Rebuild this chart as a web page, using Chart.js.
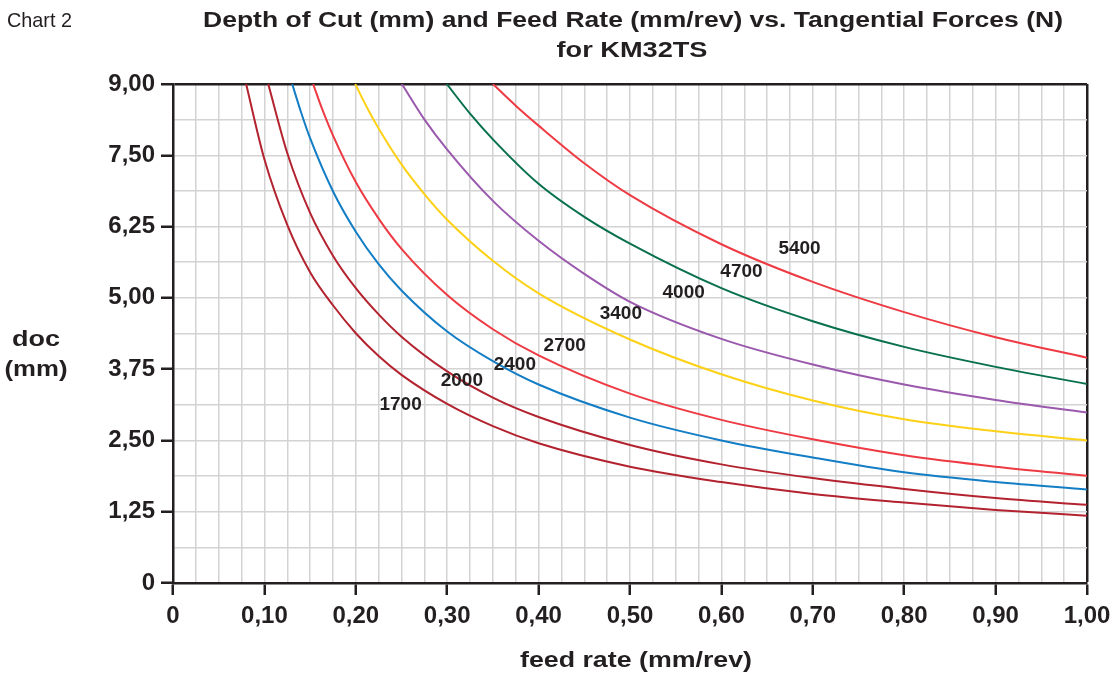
<!DOCTYPE html>
<html>
<head>
<meta charset="utf-8">
<script src="https://cdn.jsdelivr.net/npm/chart.js@4.4.1/dist/chart.umd.min.js"></script>
<style>
body{margin:0;background:#fff;}
#wrap{width:1113px;height:676px;}
</style>
</head>
<body>
<div id="wrap"><canvas id="forceChart" width="1113" height="676"></canvas></div>
<script>
//Data
var forces = [1700,2000,2400,2700,3400,4000,4700,5400];
var feed1700 = [0.080,0.1,0.125,0.15,0.175,0.2,0.225,0.25,0.3,0.35,0.4,0.5,0.6,0.7,0.8,0.9,1.0];
var doc1700  = [8.75,7.43,6.28,5.45,4.87,4.38,3.98,3.65,3.14,2.75,2.45,2.04,1.77,1.56,1.41,1.28,1.18];
var feed2000 = [0.1042,0.125,0.15,0.175,0.2,0.225,0.25,0.3,0.35,0.4,0.5,0.6,0.7,0.8,0.9,1.0];
var doc2000  = [8.75,7.54,6.49,5.74,5.17,4.71,4.32,3.71,3.25,2.91,2.42,2.08,1.84,1.65,1.49,1.37];
var feed2400 = [0.1304,0.14,0.15,0.175,0.2,0.225,0.25,0.3,0.35,0.4,0.5,0.6,0.7,0.8,0.9,1.0];
var doc2400  = [8.75,8.26,7.80,6.87,6.16,5.59,5.13,4.41,3.89,3.48,2.90,2.50,2.20,1.94,1.77,1.64];
var feed2700 = [0.1533,0.1625,0.175,0.2,0.225,0.25,0.3,0.35,0.4,0.5,0.6,0.7,0.8,0.9,1.0];
var doc2700  = [8.75,8.34,7.85,7.03,6.39,5.86,5.05,4.45,3.99,3.32,2.86,2.52,2.24,2.04,1.88];
var feed3400 = [0.1994,0.2125,0.225,0.25,0.275,0.3,0.35,0.4,0.5,0.6,0.7,0.8,0.9,1.0];
var doc3400  = [8.75,8.33,7.97,7.34,6.82,6.37,5.65,5.08,4.27,3.66,3.2,2.87,2.66,2.50];
var feed4000 = [0.2504,0.275,0.3,0.35,0.4,0.45,0.5,0.6,0.7,0.8,0.9,1.0];
var doc4000  = [8.75,8.13,7.6,6.7,6.0,5.42,4.93,4.28,3.83,3.48,3.21,2.99];
var feed4700 = [0.2995,0.325,0.35,0.4,0.45,0.5,0.6,0.7,0.8,0.9,1.0];
var doc4700  = [8.75,8.23,7.78,7.0,6.42,5.95,5.17,4.59,4.14,3.79,3.49];
var feed5400 = [0.35,0.375,0.4,0.45,0.5,0.6,0.7,0.8,0.9,1.0];
var doc5400  = [8.75,8.37,8.02,7.36,6.8,5.94,5.28,4.75,4.31,3.95];
var xTickLabels = ['0','0,10','0,20','0,30','0,40','0,50','0,60','0,70','0,80','0,90','1,00'];
var yTickLabels = ['0','1,25','2,50','3,75','5,00','6,25','7,50','9,00'];
var titleLines = ['Depth of Cut (mm) and Feed Rate (mm/rev) vs. Tangential Forces (N)','for KM32TS'];

//Styles
var lineColors = ['#b3232f','#b3232f','#137dc5','#ee3a43','#fcd116','#9a59ad','#08704d','#ee3a43'];
var INK = '#231f20', GRID = '#d3d3d3';
var SANS = "'Liberation Sans',Arial,sans-serif";
//curve label anchors (feed, doc)
var labelAt = [[0.249,3.13],[0.316,3.55],[0.374,3.83],[0.4286,4.16],[0.49,4.72],[0.5587,5.09],[0.622,5.46],[0.6855,5.86]];

var curveFeeds = [feed1700,feed2000,feed2400,feed2700,feed3400,feed4000,feed4700,feed5400];
var curveDocs = [doc1700,doc2000,doc2400,doc2700,doc3400,doc4000,doc4700,doc5400];
var datasets = forces.map(function(f,i){
	return {
		label:String(f),
		data:curveFeeds[i].map(function(x,j){return {x:x,y:curveDocs[i][j]};}),
		borderColor:lineColors[i],
		borderWidth:2,
		pointRadius:0,
		fill:false,
		cubicInterpolationMode:'monotone'
	};
});

//stretch text to a given width
function fitText(ctx,text,cx,cy,width,font){
	ctx.font = font;
	var w = ctx.measureText(text).width;
	ctx.save();
	ctx.translate(cx,cy);
	ctx.scale(width/w,1);
	ctx.textAlign = 'center';
	ctx.fillText(text,0,0);
	ctx.restore();
}

var textPlugin = {
	id:'texts',
	afterDraw:function(chart){
		var ctx = chart.ctx, xs = chart.scales.x, ys = chart.scales.y;
		ctx.save();
		ctx.fillStyle = INK;
		ctx.textBaseline = 'middle';
		fitText(ctx,'Chart 2',39.5,21,65,'21px ' + SANS);
		fitText(ctx,titleLines[0],633,21,860,'bold 22px ' + SANS);
		fitText(ctx,titleLines[1],632,51,151,'bold 22px ' + SANS);
		fitText(ctx,'feed rate (mm/rev)',636,661,232,'bold 22px ' + SANS);
		fitText(ctx,'doc',36,340,48,'bold 22px ' + SANS);
		fitText(ctx,'(mm)',36,370,63,'bold 22px ' + SANS);
		ctx.font = 'bold 19px ' + SANS;
		ctx.textAlign = 'center';
		forces.forEach(function(f,i){
			ctx.fillText(String(f),xs.getPixelForValue(labelAt[i][0]),ys.getPixelForValue(labelAt[i][1]));
		});
		ctx.restore();
	}
};

var chart = new Chart(document.getElementById('forceChart'),{
	type:'line',
	data:{datasets:datasets},
	plugins:[textPlugin],
	options:{
		responsive:false,
		animation:false,
		layout:{padding:{top:84,right:26,left:0,bottom:0}},
		plugins:{legend:{display:false},tooltip:{enabled:false},title:{display:false}},
		scales:{
			x:{
				type:'linear',
				min:0,
				max:1,
				afterBuildTicks:function(s){
					var t = [];
					for(var i=0;i<=40;i++){t.push({value:i/40});}
					s.ticks = t;
				},
				afterFit:function(s){s.height = 93;s.paddingLeft = 0;s.paddingRight = 0;},
				ticks:{
					autoSkip:false,
					maxRotation:0,
					minRotation:0,
					padding:7,
					color:INK,
					font:{family:SANS,size:24,weight:'bold'},
					callback:function(v,i){return i%4===0 ? xTickLabels[i/4] : '';}
				},
				grid:{
					color:function(c){return c.tick && c.tick.value===1 ? INK : GRID;},
					lineWidth:function(c){return c.tick && c.tick.value===1 ? 2.5 : 1.5;},
					tickLength:12,
					tickWidth:2.5,
					tickColor:function(c){return c.index%4===0 ? INK : 'rgba(0,0,0,0)';}
				},
				border:{display:true,color:INK,width:2.5}
			},
			y:{
				type:'linear',
				min:0,
				max:8.75,
				afterBuildTicks:function(s){
					var t = [];
					for(var i=0;i<=14;i++){t.push({value:i*0.625});}
					s.ticks = t;
				},
				afterFit:function(s){s.width = 173;s.paddingTop = 0;s.paddingBottom = 0;},
				ticks:{
					autoSkip:false,
					padding:6,
					color:INK,
					font:{family:SANS,size:24,weight:'bold'},
					callback:function(v,i){return i%2===0 ? yTickLabels[i/2] : '';}
				},
				grid:{
					color:function(c){return c.tick && c.tick.value===8.75 ? INK : GRID;},
					lineWidth:function(c){return c.tick && c.tick.value===8.75 ? 2.5 : 1.5;},
					tickLength:12,
					tickWidth:2.5,
					tickColor:function(c){return c.index%2===0 ? INK : 'rgba(0,0,0,0)';}
				},
				border:{display:true,color:INK,width:2.5}
			}
		}
	}
});
</script>
</body>
</html>
